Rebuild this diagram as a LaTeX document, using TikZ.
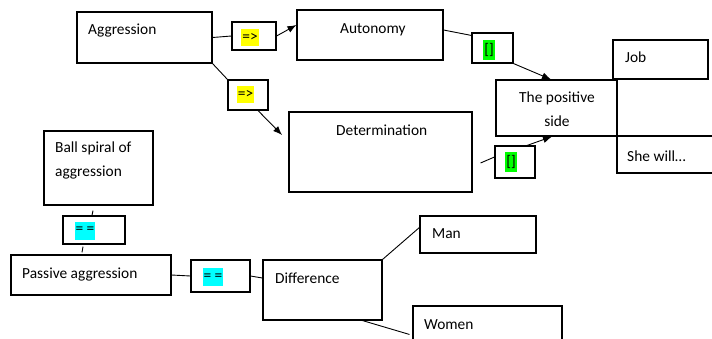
\documentclass[tikz,border=0pt]{standalone}
\usepackage{fontspec}
\setmainfont{Carlito}
\usetikzlibrary{arrows.meta}

\definecolor{markyellow}{RGB}{255,255,0}
\definecolor{markgreen}{RGB}{0,255,0}
\definecolor{markcyan}{RGB}{0,255,255}

\tikzset{
  box/.style={draw, line width=1.1pt, inner sep=0pt},
  txt/.style={inner sep=0pt, font=\fontsize{15.4}{24}\selectfont},
  mark yellow/.style={txt, fill=markyellow, inner xsep=1pt, minimum height=17pt},
  mark green/.style={txt, fill=markgreen, inner xsep=1.5pt, minimum height=20pt},
  mark cyan/.style={txt, fill=markcyan, inner xsep=0.5pt, minimum height=18pt},
  link/.style={line width=0.9pt},
  arr/.style={link, -{Latex[length=9pt,width=7pt]}}
}

\begin{document}
\begin{tikzpicture}[x=1pt, y=-1pt]
   \useasboundingbox (0,0) rectangle (712,338);
   \clip (0,0) rectangle (712,338);

   % boxes
   \node[box, minimum width=135pt, minimum height=51pt] (aggr) at (144.5,37.5) {};
   \node[box, minimum width=44pt, minimum height=28pt] (lbla) at (254,36) {};
   \node[box, minimum width=40pt, minimum height=30pt] (lblb) at (248,95) {};
   \node[box, minimum width=146pt, minimum height=50pt] (auto) at (370,35) {};
   \node[box, minimum width=41pt, minimum height=30pt] (grna) at (492.5,48) {};
   \node[box, minimum width=121pt, minimum height=56pt] (pos) at (556.5,108) {};
   \node[box, minimum width=95pt, minimum height=39pt] (job) at (660.5,59.5) {};
   \node[box, minimum width=103pt, minimum height=37pt] (she) at (668.5,154.5) {};
   \node[box, minimum width=183pt, minimum height=80pt] (det) at (380.5,152) {};
   \node[box, minimum width=40pt, minimum height=32pt] (grnb) at (515,162) {};
   \node[box, minimum width=109pt, minimum height=74pt] (ball) at (98.5,168) {};
   \node[box, minimum width=62pt, minimum height=28pt] (cyana) at (94,230) {};
   \node[box, minimum width=160pt, minimum height=40pt] (pass) at (91,275) {};
   \node[box, minimum width=59pt, minimum height=32pt] (cyanb) at (220.5,276) {};
   \node[box, minimum width=119pt, minimum height=60pt] (diff) at (322.5,290) {};
   \node[box, minimum width=116pt, minimum height=37pt] (man) at (478,234.5) {};
   \node[box, minimum width=149pt, minimum height=44pt] (women) at (487.5,328) {};

   % texts
   \node[txt, anchor=base west] (aggrtxt) at (88,34) {Aggression};
   \node[txt, anchor=base west] (autotxt) at (340,33) {Autonomy};
   \node[txt, align=center] (postxt) at (557,109) {The positive\\side};
   \node[txt, anchor=base west] (jobtxt) at (625,62) {Job};
   \node[txt, anchor=base west] (shetxt) at (627,161) {She will…};
   \node[txt, anchor=base west] (dettxt) at (336,135) {Determination};
   \node[txt, align=left, anchor=west] (balltxt) at (55,160) {Ball spiral of\\aggression};
   \node[txt, anchor=base west] (passtxt) at (22,278) {Passive aggression};
   \node[txt, anchor=base west] (difftxt) at (275,283) {Difference};
   \node[txt, anchor=base west] (mantxt) at (432,238) {Man};
   \node[txt, anchor=base west] (womentxt) at (424,329) {Women};

   % marks
   \node[mark yellow] (marka) at (250,37) {=>};
   \node[mark yellow] (markb) at (245.5,94.5) {=>};
   \node[mark green] (markc) at (489,49.5) {[]};
   \node[mark green] (markd) at (511,161.5) {[]};
   \node[mark cyan] (marke) at (85,230.5) {= =};
   \node[mark cyan] (markf) at (213,277) {= =};

   % connectors
   \coordinate (dettip) at (282,135);
   \draw[link] (aggr.east) -- (lbla.west);
   \draw[arr] (lbla.east) -- ([yshift=10pt]auto.west);
   \draw[link] (aggr.south east) -- (lblb.north west);
   \draw[arr] ([xshift=10pt]lblb.south) -- (dettip);
   \draw[link] ([yshift=5pt]auto.east) -- ([yshift=-3pt]grna.north west);
   \draw[arr] (grna.south east) -- ([xshift=-5.5pt]pos.north);
   \draw[link] ([xshift=8pt,yshift=-11pt]det.east) -- ([yshift=5pt]grnb.west);
   \draw[arr] ([xshift=12pt]grnb.north) -- ([xshift=-4.5pt]pos.south);
   \draw[link] ([xshift=-5.5pt,yshift=-5pt]ball.south) -- ([xshift=-2pt]cyana.north);
   \draw[link] ([xshift=-11pt,yshift=-2pt]cyana.south) -- ([xshift=-9pt,yshift=2pt]pass.north);
   \draw[link] (pass.east) -- (cyanb.west);
   \draw[link] (cyanb.east) -- ([yshift=12pt]diff.west);
   \draw[link] (diff.north east) -- ([yshift=-12pt]man.north west);
   \draw[link] ([xshift=40pt]diff.south) -- ([xshift=-3pt,yshift=-29pt]women.north west);
\end{tikzpicture}
\end{document}
